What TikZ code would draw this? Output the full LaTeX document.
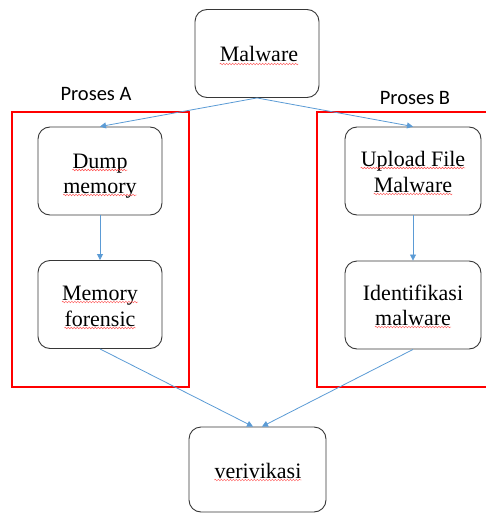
\documentclass[tikz,border=0pt]{standalone}
\usepackage{fontspec}
\setmainfont{Liberation Serif}
\newfontfamily\timesfont{Liberation Serif}
\newfontfamily\calibri{Carlito}
\usetikzlibrary{arrows.meta,decorations.pathmorphing}
\definecolor{flowblue}{RGB}{91,155,213}
\definecolor{boxgray}{RGB}{55,55,55}
\tikzset{
  x=1pt, y=-1pt,
  stepbox/.style={draw=boxgray, line width=0.9pt, rounded corners=12pt,
    minimum width=#1, minimum height=88pt, inner sep=0pt},
  stepbox/.default=124pt,
  steptext/.style={font=\timesfont\fontsize{22}{26}\selectfont, inner sep=0pt, anchor=base},
  grouptitle/.style={font=\calibri\fontsize{20.5}{24}\selectfont, inner sep=0pt, anchor=base},
  group/.style={draw=red, line width=1.1pt},
  conn/.style={draw=flowblue, line width=0.8pt,
    -{Triangle[length=6pt,width=6pt]}},
  squiggle/.style={draw=red!70, line width=0.45pt, decorate,
    decoration={snake, amplitude=0.8pt, segment length=3pt}}
}
\newcommand{\wavy}[1]{\draw[squiggle] ([yshift=-2pt]#1.base west) -- ([yshift=-2pt]#1.base east);}
\begin{document}
\begin{tikzpicture}
\useasboundingbox (0,0) rectangle (485,513);

% process groups
\draw[group] (12,112) rectangle (189,387);
\draw[group] (490,112) -- (317,112) -- (317,387) -- (490,387);
\node[grouptitle] (pa) at (96,101) {Proses A};
\node[grouptitle] (pb) at (415,105) {Proses B};

% boxes
\node[stepbox] (mw) at (257,53.5) {};
\node[stepbox] (dm) at (100,171) {};
\node[stepbox] (mf) at (100,304.5) {};
\node[stepbox=136pt] (uf) at (413,171) {};
\node[stepbox=136pt] (im) at (413,305) {};
\node[stepbox=137pt, minimum height=85pt] (vf) at (257.5,469.5) {};

% labels
\node[steptext] (t1) at (259,62) {Malware};
\node[steptext] (t2) at (100,168) {Dump};
\node[steptext] (t3) at (100,193) {memory};
\node[steptext] (t4) at (100,300) {Memory};
\node[steptext] (t5) at (100,326) {forensic};
\node[steptext] (t6) at (413,166) {Upload File};
\node[steptext] (t7) at (413,192) {Malware};
\node[steptext] (t8) at (413,300) {Identifikasi};
\node[steptext] (t9) at (413,325) {malware};
\node[steptext] (t10) at (258,478) {verivikasi};

% spell-check underlines
\wavy{t1}\wavy{t2}\wavy{t3}\wavy{t4}\wavy{t5}
\wavy{t6}\wavy{t7}\wavy{t9}\wavy{t10}

% connectors
\draw[conn] (mw.south) -- (dm.north);
\draw[conn] (mw.south) -- (uf.north);
\draw[conn] (dm.south) -- (mf.north);
\draw[conn] (uf.south) -- (im.north);
\draw[conn] (mf.south) -- ([xshift=-4.5pt]vf.north);
\draw[conn] (im.south) -- ([xshift=4.5pt]vf.north);
\end{tikzpicture}
\end{document}
